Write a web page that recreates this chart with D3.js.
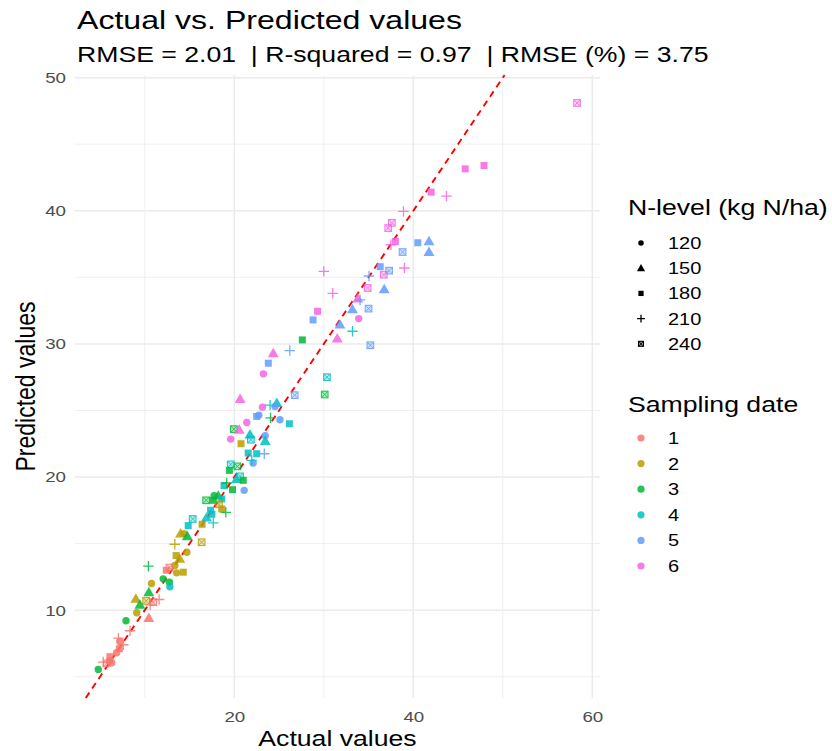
<!DOCTYPE html>
<html>
<head>
<meta charset="utf-8">
<script src="https://cdn.jsdelivr.net/npm/d3@7"></script>
<style>
    body { margin: 0; background: #fff; }
    text { font-family: "Liberation Sans", Arial, sans-serif; }
</style>
</head>
<body>
<div id="chart"></div>
<script>
// values
var actual = [58.3, 45.8, 47.9, 42.0, 43.7, 38.9, 37.6, 37.2, 38.0, 37.5,
    40.5, 41.75, 41.75, 38.8, 30.0, 36.3, 35.05, 37.3, 36.7, 39.0,
    34.9, 36.75, 31.0, 33.8, 34.05, 35.0, 33.2, 29.3, 28.8, 33.9,
    31.8, 33.2, 31.5, 27.6, 35.2, 24.35, 26.2, 23.8, 23.25, 30.35,
    30.1, 26.75, 20.65, 23.15, 24.0, 24.75, 24.55, 22.75, 22.5, 24.05,
    25.1, 21.4, 26.15, 19.95, 20.55, 21.75, 21.85, 23.45, 23.45, 19.6,
    20.75, 22.5, 23.35, 22.1, 21.55, 21.95, 19.6, 20.35, 19.45, 20.65,
    20.25, 21.0, 18.85, 19.8, 21.1, 19.15, 17.75, 18.2, 18.6, 16.85,
    17.65, 18.3, 18.6, 17.35, 17.5, 19.05, 17.65, 16.9, 15.35, 14.85,
    16.4, 16.35, 14.0, 14.4, 14.75, 13.35, 14.7, 13.5, 13.9, 13.35,
    12.75, 10.4, 13.55, 14.3, 12.05, 12.75, 12.8, 10.75, 10.45, 11.6,
    9.0, 10.15, 10.95, 9.45, 9.1, 10.45, 7.9, 8.35, 7.05, 7.6,
    7.15, 6.85, 6.1, 5.35, 6.05, 5.75, 4.8, 6.3, 12.4, 10.6, 7.2]
var predicted = [48.1, 43.15, 43.4, 41.4, 41.1, 39.95, 39.1, 38.7, 37.7, 37.45,
    37.6, 37.7, 36.9, 36.9, 35.45, 35.8, 35.1, 35.5, 35.2, 35.7,
    34.2, 34.1, 33.8, 33.4, 33.3, 32.65, 32.6, 32.45, 31.8, 31.9,
    31.45, 30.95, 30.4, 30.3, 29.9, 29.3, 29.5, 28.55, 27.75, 27.5,
    26.2, 26.15, 25.85, 25.25, 25.4, 25.55, 25.3, 24.65, 24.55, 24.45,
    24.3, 24.1, 24.0, 23.6, 23.55, 23.2, 22.8, 23.1, 22.7, 22.85,
    22.5, 21.75, 21.75, 21.05, 21.8, 21.25, 20.95, 20.8, 20.5, 20.05,
    19.85, 19.75, 19.35, 19.05, 19.0, 19.55, 18.6, 18.6, 18.35, 18.25,
    18.25, 17.95, 17.6, 17.5, 17.2, 17.35, 16.55, 16.95, 16.85, 16.35,
    16.45, 15.1, 15.75, 15.75, 15.55, 14.95, 14.35, 14.1, 13.85, 13.35,
    13.2, 13.3, 12.8, 12.85, 12.35, 12.1, 11.75, 12.0, 11.35, 10.8,
    10.85, 10.7, 10.6, 10.4, 9.8, 9.4, 9.2, 8.45, 7.9, 7.4,
    7.1, 6.8, 6.5, 6.1, 6.2, 6.0, 5.55, 6.05, 13.0, 10.4, 7.65]
var nLevel = [240, 180, 180, 180, 210, 210, 240, 240, 180, 210,
    180, 150, 150, 240, 210, 180, 210, 240, 240, 210,
    240, 150, 210, 150, 210, 240, 150, 180, 180, 120,
    150, 210, 150, 180, 240, 150, 210, 180, 120, 240,
    240, 240, 150, 120, 210, 150, 120, 120, 180, 210,
    120, 120, 180, 240, 150, 150, 240, 120, 150, 120,
    180, 180, 210, 120, 180, 210, 240, 240, 180, 240,
    150, 180, 180, 180, 120, 210, 120, 150, 180, 240,
    180, 240, 180, 180, 180, 210, 210, 150, 240, 180,
    180, 240, 150, 120, 150, 210, 120, 180, 150, 120,
    240, 210, 120, 180, 120, 120, 120, 120, 150, 210,
    150, 240, 240, 150, 120, 150, 120, 210, 210, 210,
    180, 120, 180, 210, 120, 240, 120, 120, 180, 210, 120]
var sampDate = [6, 6, 6, 6, 6, 6, 6, 6, 6, 6,
    5, 5, 5, 5, 6, 5, 5, 5, 6, 6,
    6, 5, 6, 6, 5, 5, 5, 6, 5, 6,
    5, 4, 6, 3, 5, 6, 5, 5, 6, 4,
    3, 5, 6, 6, 4, 4, 5, 5, 5, 3,
    5, 6, 4, 3, 6, 4, 4, 5, 4, 6,
    2, 4, 5, 5, 4, 4, 4, 3, 3, 4,
    4, 3, 4, 3, 5, 3, 3, 3, 4, 3,
    3, 2, 2, 4, 4, 3, 4, 4, 4, 4,
    2, 2, 2, 2, 3, 2, 2, 2, 2, 2,
    1, 3, 2, 2, 3, 3, 4, 2, 3, 1,
    2, 2, 1, 3, 2, 1, 3, 1, 1, 1,
    1, 1, 1, 1, 1, 1, 3, 1, 1, 1, 1]

var nLevels = [120, 150, 180, 210, 240]
var dates = [1, 2, 3, 4, 5, 6]
var dateColors = ["#F8766D", "#B79F00", "#00BA38", "#00BFC4", "#619CFF", "#F564E3"]
var xMajor = [20, 40, 60]
var xMinor = [10, 30, 50]
var yMajor = [10, 20, 30, 40, 50]
var yMinor = [5, 15, 25, 35, 45]

var width = 832
var height = 751
var panel = { left: 75, right: 600, top: 75, bottom: 698 }
var stretchK = 1.21   // the reference picture is a bit wider than tall

var svg = d3.select("#chart").append("svg")
    .attr("width", width)
    .attr("height", height)

var x = d3.scaleLinear().domain([2.2, 60.86]).range([panel.left, panel.right])
var y = d3.scaleLinear().domain([3.4, 50.2]).range([panel.bottom, panel.top])
var color = d3.scaleOrdinal().domain(dates).range(dateColors)

function stretch(sel) {
    sel.each(function () {
        var len = this.getComputedTextLength()
        d3.select(this)
            .attr("textLength", len * stretchK)
            .attr("lengthAdjust", "spacingAndGlyphs")
    })
}

// grid
var grid = svg.append("g")
grid.selectAll("line.xmin").data(xMinor).join("line")
    .attr("x1", d => x(d)).attr("x2", d => x(d))
    .attr("y1", panel.top).attr("y2", panel.bottom)
    .attr("stroke", "#EBEBEB").attr("stroke-width", 0.8)
grid.selectAll("line.ymin").data(yMinor).join("line")
    .attr("y1", d => y(d)).attr("y2", d => y(d))
    .attr("x1", panel.left).attr("x2", panel.right)
    .attr("stroke", "#EBEBEB").attr("stroke-width", 0.8)
grid.selectAll("line.xmaj").data(xMajor).join("line")
    .attr("x1", d => x(d)).attr("x2", d => x(d))
    .attr("y1", panel.top).attr("y2", panel.bottom)
    .attr("stroke", "#EBEBEB").attr("stroke-width", 1.5)
grid.selectAll("line.ymaj").data(yMajor).join("line")
    .attr("y1", d => y(d)).attr("y2", d => y(d))
    .attr("x1", panel.left).attr("x2", panel.right)
    .attr("stroke", "#EBEBEB").attr("stroke-width", 1.5)

// axes (theme_minimal: labels only)
var xAxis = svg.append("g")
    .attr("transform", "translate(0," + panel.bottom + ")")
    .call(d3.axisBottom(x).tickValues(xMajor).tickSize(0).tickPadding(13))
var yAxis = svg.append("g")
    .attr("transform", "translate(" + panel.left + ",0)")
    .call(d3.axisLeft(y).tickValues(yMajor).tickSize(0).tickPadding(9))
svg.selectAll(".domain").remove()
svg.selectAll(".tick text")
    .attr("fill", "#4D4D4D")
    .style("font-size", "15.5px")
    .style("font-family", "'Liberation Sans', Arial, sans-serif")
    .call(stretch)

// 1:1 line
var lo = Math.max(x.domain()[0], y.domain()[0])
var hi = Math.min(x.domain()[1], y.domain()[1])
svg.append("line")
    .attr("x1", x(lo)).attr("y1", y(lo))
    .attr("x2", x(hi)).attr("y2", y(hi))
    .attr("stroke", "#FF0000")
    .attr("stroke-width", 1.9)
    .attr("stroke-dasharray", "6.5,5")

// markers
function drawShape(g, level, c, s) {
    s = s || 1
    if (level == 120) {
        g.append("circle").attr("r", 3.7 * s).attr("fill", c)
    } else if (level == 150) {
        g.append("path").attr("d", d3.symbol(d3.symbolTriangle, 52 * s * s)()).attr("fill", c)
            .attr("transform", "translate(0," + (0.8 * s) + ")")
    } else if (level == 180) {
        g.append("rect").attr("x", -3.5 * s).attr("y", -3.5 * s)
            .attr("width", 7 * s).attr("height", 7 * s).attr("fill", c)
    } else if (level == 210) {
        g.append("path")
            .attr("d", "M" + (-5.2 * s) + ",0H" + (5.2 * s) + "M0," + (-5.2 * s) + "V" + (5.2 * s))
            .attr("stroke", c).attr("stroke-width", 1.3).attr("fill", "none")
    } else {
        var h = 3.3 * s
        g.append("rect").attr("x", -h).attr("y", -h)
            .attr("width", 2 * h).attr("height", 2 * h)
            .attr("fill", c).attr("fill-opacity", 0.35)
            .attr("stroke", c).attr("stroke-width", 1.1)
        g.append("path")
            .attr("d", "M" + (-h) + "," + (-h) + "L" + h + "," + h + "M" + (-h) + "," + h + "L" + h + "," + (-h))
            .attr("stroke", c).attr("stroke-width", 1)
    }
}

var pts = actual.map((a, i) => ({ a: a, p: predicted[i], n: nLevel[i], d: sampDate[i] }))
var pointG = svg.append("g")
pts.forEach(d => {
    var g = pointG.append("g")
        .attr("transform", "translate(" + x(d.a) + "," + y(d.p) + ")")
        .attr("opacity", 0.85)
    drawShape(g, d.n, color(d.d))
})

// titles
svg.append("text")
    .attr("x", 77).attr("y", 29)
    .style("font-size", "26.5px")
    .attr("fill", "#000")
    .text("Actual vs. Predicted values")
    .call(stretch)
svg.append("text")
    .attr("x", 77).attr("y", 62)
    .style("font-size", "22px")
    .attr("fill", "#000")
    .text("RMSE = 2.01  | R-squared = 0.97  | RMSE (%) = 3.75")
    .style("white-space", "pre")
    .call(stretch)

svg.append("text")
    .attr("x", (panel.left + panel.right) / 2).attr("y", 746)
    .attr("text-anchor", "middle")
    .style("font-size", "22px")
    .text("Actual values")
    .call(stretch)
svg.append("text")
    .attr("transform", "translate(35," + ((panel.top + panel.bottom) / 2) + ") rotate(-90) scale(1," + stretchK + ")")
    .attr("text-anchor", "middle")
    .style("font-size", "23px")
    .text("Predicted values")

// legends
var legX = 628
var leg1 = svg.append("g")
leg1.append("text").attr("x", legX).attr("y", 215)
    .style("font-size", "22px").text("N-level (kg N/ha)").call(stretch)
nLevels.forEach((n, i) => {
    var cy = 243 + i * 25.2
    var g = leg1.append("g").attr("transform", "translate(" + (legX + 13) + "," + cy + ")")
    drawShape(g, n, "#000", 0.75)
    leg1.append("text").attr("x", legX + 40).attr("y", cy + 6)
        .style("font-size", "16.5px").text(n).call(stretch)
})

var leg2 = svg.append("g")
leg2.append("text").attr("x", legX).attr("y", 412)
    .style("font-size", "22px").text("Sampling date").call(stretch)
dates.forEach((d, i) => {
    var cy = 438 + i * 25.6
    leg2.append("circle").attr("cx", legX + 13).attr("cy", cy).attr("r", 3.6)
        .attr("fill", color(d)).attr("opacity", 0.85)
    leg2.append("text").attr("x", legX + 40).attr("y", cy + 6)
        .style("font-size", "16.5px").text(d).call(stretch)
})
</script>
</body>
</html>
